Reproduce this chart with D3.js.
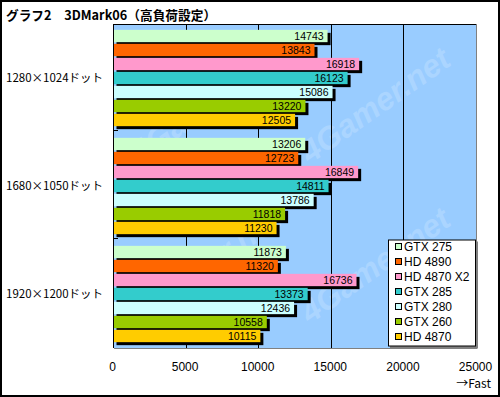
<!DOCTYPE html>
<html lang="ja">
<head>
  <meta charset="UTF-8">
  <title>グラフ2 3DMark06（高負荷設定）</title>
  <script src="https://d3js.org/d3.v7.min.js"></script>
  <style>
    body { margin: 0; background: #fff; }
    svg { display: block; }
    .title { font-family: "Noto Sans CJK JP", sans-serif; font-weight: bold; font-size: 12.7px; }
    .cat { font-family: "Noto Sans CJK JP", sans-serif; font-size: 11.5px; }
    .tick-label, .legend-label { font-family: "Liberation Sans", Arial, sans-serif; font-size: 12px; }
    .fast { font-family: "Noto Sans CJK JP", sans-serif; font-size: 12px; }
    .val { font-family: "Liberation Sans", Arial, sans-serif; font-size: 10.5px; }
  </style>
</head>
<body>
<div id="chart"></div>
<script>
  // データ
  const categories = ["1280×1024ドット", "1680×1050ドット", "1920×1200ドット"];
  const seriesNames = ["GTX 275", "HD 4890", "HD 4870 X2", "GTX 285", "GTX 280", "GTX 260", "HD 4870"];
  const seriesColors = ["#CCFFCC", "#FF6600", "#FF99CC", "#33CCCC", "#CCFFFF", "#99CC00", "#FFCC00"];
  const values1280 = [14743, 13843, 16918, 16123, 15086, 13220, 12505];
  const values1680 = [13206, 12723, 16849, 14811, 13786, 11818, 11230];
  const values1920 = [11873, 11320, 16736, 13373, 12436, 10558, 10115];
  const xTicks = [0, 5000, 10000, 15000, 20000, 25000];

  const allValues = [values1280, values1680, values1920];
  const rows = [];
  categories.forEach((c, i) => {
    seriesNames.forEach((s, j) => {
      rows.push({ cat: c, series: s, value: allValues[i][j], color: seriesColors[j] });
    });
  });

  const W = 500, H = 397;
  const plot = { left: 113.5, right: 476.5, top: 24, bottom: 348 };

  const svg = d3.select("#chart").append("svg")
    .attr("width", W).attr("height", H);

  // 外枠
  svg.append("rect")
    .attr("x", 1).attr("y", 1).attr("width", W - 2).attr("height", H - 2)
    .attr("fill", "#fff").attr("stroke", "#000").attr("stroke-width", 2);

  svg.append("text").attr("class", "title")
    .attr("x", 6).attr("y", 20)
    .text("グラフ2　3DMark06（高負荷設定）");

  const x = d3.scaleLinear().domain([0, 25000]).range([plot.left, plot.right]);
  const y0 = d3.scaleBand().domain(categories).range([plot.top, plot.bottom]).padding(0);
  const y1 = d3.scaleBand().domain(seriesNames)
    .range([5, y0.bandwidth() - 5])
    .paddingInner(0.12).paddingOuter(0.06);

  // プロット背景
  svg.append("rect")
    .attr("x", plot.left).attr("y", plot.top)
    .attr("width", plot.right - plot.left).attr("height", plot.bottom - plot.top)
    .attr("fill", "#99CCFF");

  // 透かし
  const wm = svg.append("g");
  [[205, 105], [375, 105], [205, 265], [375, 265]].forEach(p => {
    wm.append("text")
      .attr("transform", `translate(${p[0]},${p[1]}) rotate(-35)`)
      .attr("text-anchor", "middle")
      .attr("dy", "0.35em")
      .attr("font-family", "Liberation Sans, Arial, sans-serif")
      .attr("font-weight", "bold").attr("font-style", "italic")
      .attr("font-size", 32)
      .attr("fill", "#ABD5FF")
      .text("4Gamer.net");
  });

  // グリッド線
  svg.append("g").selectAll("line")
    .data(xTicks.slice(1, -1))
    .enter().append("line")
    .attr("x1", d => x(d)).attr("x2", d => x(d))
    .attr("y1", plot.top).attr("y2", plot.bottom)
    .attr("stroke", "#000").attr("stroke-width", 1)
    .attr("shape-rendering", "crispEdges");

  // 枠線
  svg.append("line").attr("x1", plot.left).attr("x2", plot.right)
    .attr("y1", plot.top).attr("y2", plot.top)
    .attr("stroke", "#000").attr("shape-rendering", "crispEdges");
  svg.append("line").attr("x1", plot.right).attr("x2", plot.right)
    .attr("y1", plot.top).attr("y2", plot.bottom)
    .attr("stroke", "#808080").attr("shape-rendering", "crispEdges");
  svg.append("line").attr("x1", plot.left).attr("x2", plot.right)
    .attr("y1", plot.bottom).attr("y2", plot.bottom)
    .attr("stroke", "#808080").attr("shape-rendering", "crispEdges");

  // バー（影 + 本体）
  const bars = svg.append("g").selectAll("g.bar")
    .data(rows)
    .enter().append("g").attr("class", "bar")
    .attr("transform", d => `translate(0,${y0(d.cat) + y1(d.series)})`);

  bars.append("rect")
    .attr("x", plot.left + 3).attr("y", 3)
    .attr("width", d => x(d.value) - plot.left)
    .attr("height", y1.bandwidth())
    .attr("fill", "#000");

  bars.append("rect")
    .attr("x", plot.left).attr("y", 0)
    .attr("width", d => x(d.value) - plot.left)
    .attr("height", y1.bandwidth())
    .attr("fill", d => d.color);

  bars.append("text").attr("class", "val")
    .attr("x", d => x(d.value) - 4)
    .attr("y", y1.bandwidth() / 2)
    .attr("dy", "0.36em")
    .attr("text-anchor", "end")
    .text(d => d.value);

  // 左軸
  svg.append("line").attr("x1", plot.left).attr("x2", plot.left)
    .attr("y1", plot.top).attr("y2", plot.bottom)
    .attr("stroke", "#000").attr("shape-rendering", "crispEdges");
  svg.append("g").selectAll("line")
    .data(categories.slice(1))
    .enter().append("line")
    .attr("x1", plot.left).attr("x2", plot.left + 4)
    .attr("y1", d => y0(d) - 1.5).attr("y2", d => y0(d) - 1.5)
    .attr("stroke", "#000").attr("shape-rendering", "crispEdges");

  svg.append("g").selectAll("text")
    .data(categories)
    .enter().append("text").attr("class", "cat")
    .attr("x", 6)
    .attr("y", d => y0(d) + y0.bandwidth() / 2)
    .attr("dy", "0.36em")
    .text(d => d);

  // X軸ラベル
  svg.append("g").selectAll("text")
    .data(xTicks)
    .enter().append("text").attr("class", "tick-label")
    .attr("x", d => x(d) - 1)
    .attr("y", 371)
    .attr("text-anchor", "middle")
    .text(d => d);

  svg.append("text").attr("class", "fast")
    .attr("x", 491).attr("y", 388)
    .attr("text-anchor", "end")
    .text("→Fast");

  // 凡例
  const lg = svg.append("g").attr("transform", "translate(388,239.5)");
  lg.append("rect")
    .attr("x", 2).attr("y", 2).attr("width", 88).attr("height", 107)
    .attr("fill", "#808080");
  lg.append("rect")
    .attr("x", 0.5).attr("y", 0.5).attr("width", 87).attr("height", 106)
    .attr("fill", "#fff").attr("stroke", "#000");
  const items = lg.selectAll("g.item")
    .data(seriesNames)
    .enter().append("g").attr("class", "item")
    .attr("transform", (d, i) => `translate(0,${7.5 + i * 15})`);
  items.append("rect")
    .attr("x", 7.5).attr("y", -3.5).attr("width", 6).attr("height", 6)
    .attr("fill", (d, i) => seriesColors[i])
    .attr("stroke", "#000");
  items.append("text").attr("class", "legend-label")
    .attr("x", 16).attr("y", 0)
    .attr("dy", "0.36em")
    .text(d => d);
</script>
</body>
</html>
